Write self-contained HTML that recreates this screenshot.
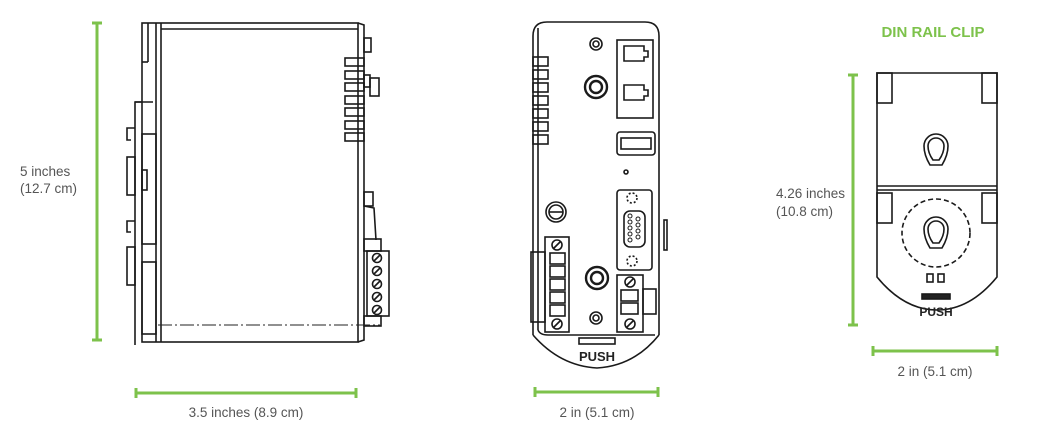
<!DOCTYPE html>
<html><head><meta charset="utf-8"><style>
html,body{margin:0;padding:0;background:#fff;}
svg{display:block;}
text{font-family:"Liberation Sans",sans-serif;}
.l{fill:none;stroke:#1a1a1a;stroke-width:1.6;}
.t{fill:none;stroke:#1a1a1a;stroke-width:2.4;}
.d{stroke:#7dc24b;stroke-width:3;fill:none;}
.lab{fill:#555;font-size:13.5px;}
</style></head><body>
<svg width="1040" height="439" viewBox="0 0 1040 439">
<g class="d">
<line x1="97" y1="23" x2="97" y2="340"/><line x1="92" y1="23" x2="102" y2="23"/><line x1="92" y1="340" x2="102" y2="340"/>
<line x1="136" y1="393" x2="356" y2="393"/><line x1="136" y1="388" x2="136" y2="398"/><line x1="356" y1="388" x2="356" y2="398"/>
<line x1="535" y1="392" x2="658" y2="392"/><line x1="535" y1="387" x2="535" y2="397"/><line x1="658" y1="387" x2="658" y2="397"/>
<line x1="853" y1="75" x2="853" y2="325"/><line x1="848" y1="75" x2="858" y2="75"/><line x1="848" y1="325" x2="858" y2="325"/>
<line x1="873" y1="351" x2="997" y2="351"/><line x1="873" y1="346" x2="873" y2="356"/><line x1="997" y1="346" x2="997" y2="356"/>
</g>
<text class="lab" x="20" y="176">5 inches</text>
<text class="lab" x="20" y="193">(12.7 cm)</text>
<text class="lab" x="246" y="417" text-anchor="middle">3.5 inches (8.9 cm)</text>
<text class="lab" x="597" y="417" text-anchor="middle">2 in (5.1 cm)</text>
<text class="lab" x="776" y="198">4.26 inches</text>
<text class="lab" x="776" y="216">(10.8 cm)</text>
<text class="lab" x="935" y="376" text-anchor="middle">2 in (5.1 cm)</text>
<text x="933" y="37" text-anchor="middle" style="fill:#7dc24b;font-size:15px;font-weight:bold">DIN RAIL CLIP</text>

<!-- LEFT SIDE VIEW -->
<g class="l">
<rect x="142" y="23" width="216" height="319"/>
<line x1="156" y1="23" x2="156" y2="342"/><line x1="161" y1="23" x2="161" y2="342"/>
<line x1="161" y1="29" x2="358" y2="29"/>
<polyline points="358,23 364,25 364,340 358,342"/>
<line x1="148" y1="23" x2="148" y2="62"/><line x1="142" y1="62" x2="148" y2="62"/>
<polyline points="142,102 135,102 135,345"/>
<line x1="135" y1="102" x2="153" y2="102"/>
<rect x="142" y="134" width="14" height="110"/>
<rect x="142" y="170" width="5" height="20"/>
<rect x="127" y="157" width="8" height="38"/>
<rect x="127" y="247" width="8" height="38"/>
<polyline points="135,128 127,128 127,140 131,140"/>
<polyline points="135,221 127,221 127,232 131,232"/>
<rect x="142" y="262" width="14" height="72"/>
<rect x="345" y="58" width="19" height="8"/><rect x="345" y="71" width="19" height="8"/>
<rect x="345" y="83" width="19" height="8"/><rect x="345" y="96" width="19" height="8"/>
<rect x="345" y="108" width="19" height="8"/><rect x="345" y="121" width="19" height="8"/>
<rect x="345" y="133" width="19" height="8"/>
<rect x="364" y="38" width="7" height="14"/>
<rect x="364" y="75" width="6" height="12"/><rect x="370" y="78" width="9" height="18"/>
<rect x="364" y="192" width="9" height="14"/>
<polyline points="364,206 374,208 376,240"/>
<rect x="364" y="239" width="17" height="12"/>
<rect x="367" y="251" width="22" height="65"/>
<rect x="364" y="316" width="17" height="10"/>
</g>
<g class="l">
<circle cx="377" cy="258" r="4.5"/><circle cx="377" cy="271" r="4.5"/><circle cx="377" cy="284" r="4.5"/><circle cx="377" cy="297" r="4.5"/><circle cx="377" cy="310" r="4.5"/>
<path d="M374,261 L380,255 M374,274 L380,268 M374,287 L380,281 M374,300 L380,294 M374,313 L380,307"/>
</g>
<line x1="158" y1="325" x2="380" y2="325" stroke="#222" stroke-width="1" stroke-dasharray="14,3,2,3"/>

<!-- MIDDLE FRONT VIEW -->
<g class="l">
<path d="M533,335 L533,36 Q533,22 547,22 L645,22 Q659,22 659,36 L659,335"/>
<line x1="538" y1="28" x2="538" y2="330"/>
<path d="M538,330 Q540,335 548,335 L655,335"/>
<path d="M533,335 Q560,366 597,368 Q634,366 659,335"/>
<rect x="579" y="338" width="36" height="6"/>
<rect x="533" y="57" width="15" height="9"/><rect x="533" y="70" width="15" height="9"/>
<rect x="533" y="83" width="15" height="9"/><rect x="533" y="96" width="15" height="9"/>
<rect x="533" y="109" width="15" height="9"/><rect x="533" y="122" width="15" height="9"/>
<rect x="533" y="135" width="15" height="9"/>
<circle cx="596" cy="44" r="6"/><circle cx="596" cy="44" r="3"/>
<rect x="617" y="40" width="36" height="78"/>
<path d="M624,46 h20 v5 h4 v6 h-4 v4 h-20 z"/>
<path d="M624,85 h20 v5 h4 v6 h-4 v4 h-20 z"/>
<rect x="617" y="132" width="38" height="23" rx="3"/>
<rect x="621" y="138" width="30" height="11"/>
<circle cx="626" cy="172" r="2"/>
<rect x="617" y="190" width="35" height="80" rx="3"/>
<circle cx="632" cy="198" r="5" stroke-dasharray="2,2"/>
<circle cx="632" cy="261" r="5" stroke-dasharray="2,2"/>
<rect x="624" y="211" width="21" height="36" rx="6"/>
<rect x="664" y="220" width="3" height="30"/>
<circle cx="556" cy="212" r="10"/><circle cx="556" cy="212" r="7"/>
<line x1="549" y1="212" x2="563" y2="212"/>
<rect x="545" y="237" width="24" height="95"/>
<rect x="531" y="252" width="14" height="70"/>
<rect x="550" y="253" width="15" height="11"/><rect x="550" y="266" width="15" height="11"/>
<rect x="550" y="279" width="15" height="11"/><rect x="550" y="292" width="15" height="11"/>
<rect x="550" y="305" width="15" height="11"/>
<circle cx="557" cy="245" r="5"/><circle cx="557" cy="324" r="5"/>
<path d="M554,248 L560,242 M554,327 L560,321"/>
<rect x="617" y="275" width="26" height="57"/>
<rect x="643" y="289" width="13" height="25"/>
<rect x="621" y="290" width="17" height="11"/><rect x="621" y="303" width="17" height="11"/>
<circle cx="630" cy="282" r="5"/><circle cx="630" cy="324" r="5"/>
<path d="M627,285 L633,279 M627,327 L633,321"/>
<circle cx="596" cy="318" r="6"/><circle cx="596" cy="318" r="3"/>
</g>
<g fill="none" stroke="#1a1a1a" stroke-width="1">
<circle cx="630" cy="216" r="2"/><circle cx="630" cy="222" r="2"/><circle cx="630" cy="228" r="2"/><circle cx="630" cy="234" r="2"/><circle cx="630" cy="240" r="2"/>
<circle cx="638" cy="219" r="2"/><circle cx="638" cy="225" r="2"/><circle cx="638" cy="231" r="2"/><circle cx="638" cy="237" r="2"/>
</g>
<g class="t">
<circle cx="596" cy="87" r="11"/><circle cx="596" cy="87" r="6"/>
<circle cx="597" cy="278" r="11"/><circle cx="597" cy="278" r="6"/>
</g>
<text x="597" y="361" text-anchor="middle" style="font-size:13px;font-weight:bold;fill:#222">PUSH</text>

<!-- RIGHT CLIP VIEW -->
<g class="l">
<path d="M877,73 L997,73 L997,277 Q970,310 937,310 Q904,310 877,277 Z"/>
<line x1="877" y1="186" x2="997" y2="186"/><line x1="877" y1="190" x2="997" y2="190"/>
<rect x="877" y="73" width="15" height="30"/><rect x="982" y="73" width="15" height="30"/>
<rect x="877" y="193" width="15" height="30"/><rect x="982" y="193" width="15" height="30"/>
<path d="M930,165 Q924,155 924,146 A12,12 0 1 1 948,146 Q948,155 942,165 Z"/>
<path d="M933,160 Q928,153 928,146 A8,8 0 1 1 944,146 Q944,153 939,160 Z"/>
<path d="M930,248 Q924,238 924,229 A12,12 0 1 1 948,229 Q948,238 942,248 Z"/>
<path d="M933,243 Q928,236 928,229 A8,8 0 1 1 944,229 Q944,236 939,243 Z"/>
<circle cx="936" cy="233" r="34" stroke-dasharray="5,3"/>
<rect x="927" y="274" width="6" height="8"/><rect x="938" y="274" width="6" height="8"/>
<rect x="922" y="294" width="28" height="5" fill="#222"/>
</g>
<text x="936" y="316" text-anchor="middle" style="font-size:12px;font-weight:bold;fill:#222">PUSH</text>
</svg>
</body></html>
